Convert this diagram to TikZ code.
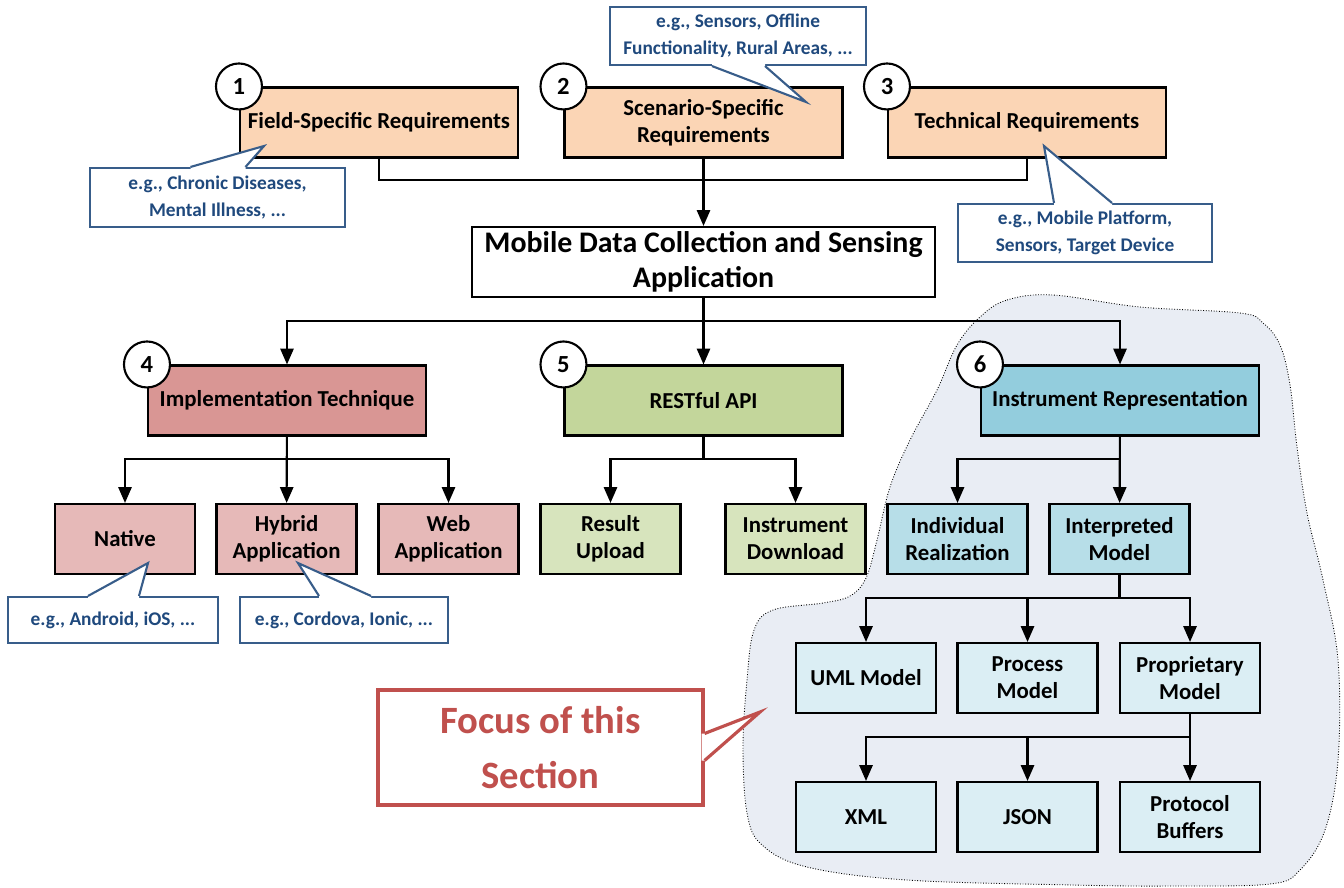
\documentclass[tikz,border=0pt]{standalone}
\usepackage{fontspec}
\setmainfont{Carlito}
\usetikzlibrary{positioning,arrows.meta,calc}
\definecolor{reqfill}{HTML}{FBD5B5}
\definecolor{impfill}{HTML}{D99694}
\definecolor{impsub}{HTML}{E6B9B8}
\definecolor{apifill}{HTML}{C3D69B}
\definecolor{apisub}{HTML}{D7E4BD}
\definecolor{insfill}{HTML}{93CDDD}
\definecolor{inssub}{HTML}{B7DEE8}
\definecolor{modfill}{HTML}{DBEEF4}
\definecolor{blobfill}{HTML}{E9EDF4}
\definecolor{egblue}{HTML}{385D8A}
\definecolor{egtext}{HTML}{1F497D}
\definecolor{focusred}{HTML}{C0504D}
\tikzset{
  box/.style={rectangle, draw, line width=1.2pt, align=center, inner sep=2pt,
              font=\fontsize{13}{15.5}\selectfont\bfseries},
  big/.style={box, minimum width=5.56cm, minimum height=1.4cm},
  small/.style={box, minimum width=2.8cm, minimum height=1.4cm},
  num/.style={circle, draw, fill=white, line width=1.2pt, minimum size=0.92cm,
              inner sep=0pt, font=\fontsize{14}{16}\selectfont\bfseries},
  eg/.style={rectangle, draw=egblue, fill=white, line width=1.2pt,
             text=egtext, align=center, inner sep=2pt,
             font=\fontsize{11}{15.5}\selectfont\bfseries},
  egtip/.style={draw=egblue, fill=white, line width=1.2pt, line join=miter},
  focustip/.style={draw=focusred, fill=white, line width=1.8pt, line join=miter},
  arr/.style={line width=1.2pt, -{Triangle[length=9pt,width=7.5pt]}},
  ln/.style={line width=1.2pt},
  blob/.style={draw=black, densely dotted, fill=blobfill, line width=0.5pt},
}

\begin{document}
\begin{tikzpicture}[x=0.02cm, y=-0.02cm]
  \useasboundingbox (0,0) rectangle (1344,887);
  \draw[blob] plot[smooth cycle, tension=0.6] coordinates {
    (980,317) (1007,300) (1053,295) (1140,307) (1240,313) (1263,323)
    (1280,345) (1290,385) (1297,447) (1307,513) (1323,580) (1338,660)
    (1338,760) (1325,830) (1300,870) (1270,884) (1170,886) (1073,885)
    (907,880) (807,867) (762,845) (747,813) (743,747) (747,680)
    (754,630) (773,610) (823,603) (850,596) (866,578) (877,540)
    (890,487) (910,440) (937,390) (957,345)};

  \node[big, fill=reqfill] (fsr) at (379,122.5) {Field-Specific Requirements};
  \node[big, fill=reqfill] (ssr) at (703.5,122.5) {Scenario-Specific\\Requirements};
  \node[big, fill=reqfill] (tech) at (1027,122.5) {Technical Requirements};
  \node[box, minimum width=9.26cm, minimum height=1.4cm,
        font=\fontsize{17}{20}\selectfont\bfseries] (mdc) at (703.5,262)
        {Mobile Data Collection and Sensing\\Application};

  \node[big, fill=impfill] (impl) at (287,400.5) {Implementation Technique};
  \node[big, fill=apifill] (rest) at (703.5,400.5) {RESTful API};
  \node[big, fill=insfill] (inst) at (1120,400.5) {Instrument Representation};

  \node[small, fill=impsub] (native) at (125,539) {Native};
  \node[small, fill=impsub] (hybrid) at (286.5,539) {Hybrid\\Application};
  \node[small, fill=impsub] (web) at (448.5,539) {Web\\Application};
  \node[small, fill=apisub] (result) at (610.5,539) {Result\\Upload};
  \node[small, fill=apisub] (download) at (795.5,539) {Instrument\\Download};
  \node[small, fill=inssub] (indiv) at (957.5,539) {Individual\\Realization};
  \node[small, fill=inssub] (interp) at (1119.5,539) {Interpreted\\Model};

  \node[small, fill=modfill] (uml) at (866,678) {UML Model};
  \node[small, fill=modfill] (proc) at (1027.5,678) {Process\\Model};
  \node[small, fill=modfill] (prop) at (1190,678) {Proprietary\\Model};
  \node[small, fill=modfill] (xml) at (866,817) {XML};
  \node[small, fill=modfill] (json) at (1027.5,817) {JSON};
  \node[small, fill=modfill] (proto) at (1190,817) {Protocol\\Buffers};

  \coordinate (top) at (703.5,180);
  \coordinate (mid) at (703.5,321);
  \draw[ln] (fsr.south) |- (top) -| (tech.south);
  \draw[arr] (ssr) -- (mdc);
  \draw[ln] (mdc.south) -- (mid);
  \draw[arr] (mid) -| (impl.north);
  \draw[arr] (mid) -- (rest.north);
  \draw[arr] (mid) -| (inst.north);

  \draw[arr] (impl.south) -- ++(0,22.5) -| (native.north);
  \draw[arr] (impl) -- (hybrid);
  \draw[arr] (impl.south) -- ++(0,22.5) -| (web.north);
  \draw[arr] (rest.south) -- ++(0,22.5) -| (result.north);
  \draw[arr] (rest.south) -- ++(0,22.5) -| (download.north);
  \draw[arr] (inst.south) -- ++(0,22.5) -| (indiv.north);
  \draw[arr] (inst) -- (interp);
  \draw[arr] (interp.south) -- ++(0,22.5) -| (uml.north);
  \draw[arr] (interp.south) -- ++(0,22.5) -| (proc.north);
  \draw[arr] (interp.south) -- ++(0,22.5) -| (prop.north);
  \draw[arr] (prop.south) -- ++(0,22.5) -| (xml.north);
  \draw[arr] (prop.south) -- ++(0,22.5) -| (json.north);
  \draw[arr] (prop) -- (proto);

  \node[num] (n1) at (fsr.north west) {1};
  \node[num] (n2) at (ssr.north west) {2};
  \node[num] (n3) at (tech.north west) {3};
  \node[num] (n4) at (impl.north west) {4};
  \node[num] (n5) at (rest.north west) {5};
  \node[num] (n6) at (inst.north west) {6};

  \node[eg, minimum width=5.1cm, minimum height=1.18cm] (egfield) at (217.5,197.5)
        {e.g., Chronic Diseases,\\Mental Illness, ...};
  \node[eg, minimum width=5.12cm, minimum height=1.16cm] (egscen) at (738,36)
        {e.g., Sensors, Offline\\Functionality, Rural Areas, ...};
  \node[eg, minimum width=5.08cm, minimum height=1.16cm] (egtech) at (1085,233)
        {e.g., Mobile Platform,\\Sensors, Target Device};
  \node[eg, minimum width=4.2cm, minimum height=0.92cm] (egnative) at (113,620)
        {e.g., Android, iOS, ...};
  \node[eg, minimum width=4.16cm, minimum height=0.92cm] (eghybrid) at (344,620)
        {e.g., Cordova, Ionic, ...};
  \node[eg, draw=focusred, text=focusred, line width=1.8pt,
        minimum width=6.5cm, minimum height=2.3cm,
        font=\fontsize{22}{31}\selectfont\bfseries] (focus) at (540.5,747.5)
        {Focus of this\\Section};

  \coordinate (tipfield) at (264,146);
  \coordinate (tipscen) at (806,102);
  \coordinate (tiptech) at (1044,146);
  \coordinate (tipnative) at (148,563);
  \coordinate (tiphybrid) at (298,563);
  \coordinate (tipfocus) at (760,712);
  \path[fill=white] ($(egfield.north)+(-27,2)$) -- ($(egfield.north)+(-27,0)$) -- (tipfield)
    -- ($(egfield.north)+(28,0)$) -- ($(egfield.north)+(28,2)$) -- cycle;
  \draw[egtip] ($(egfield.north)+(-27,0)$) -- (tipfield) -- ($(egfield.north)+(28,0)$);
  \path[fill=white] ($(egscen.south)+(-26,-2)$) -- ($(egscen.south)+(-26,0)$) -- (tipscen)
    -- ($(egscen.south)+(27,0)$) -- ($(egscen.south)+(27,-2)$) -- cycle;
  \draw[egtip] ($(egscen.south)+(-26,0)$) -- (tipscen) -- ($(egscen.south)+(27,0)$);
  \path[fill=white] ($(egtech.north)+(-31,2)$) -- ($(egtech.north)+(-31,0)$) -- (tiptech)
    -- ($(egtech.north)+(27,0)$) -- ($(egtech.north)+(27,2)$) -- cycle;
  \draw[egtip] ($(egtech.north)+(-31,0)$) -- (tiptech) -- ($(egtech.north)+(27,0)$);
  \path[fill=white] ($(egnative.north)+(-25,2)$) -- ($(egnative.north)+(-25,0)$) -- (tipnative)
    -- ($(egnative.north)+(26,0)$) -- ($(egnative.north)+(26,2)$) -- cycle;
  \draw[egtip] ($(egnative.north)+(-25,0)$) -- (tipnative) -- ($(egnative.north)+(26,0)$);
  \path[fill=white] ($(eghybrid.north)+(-25,2)$) -- ($(eghybrid.north)+(-25,0)$) -- (tiphybrid)
    -- ($(eghybrid.north)+(27,0)$) -- ($(eghybrid.north)+(27,2)$) -- cycle;
  \draw[egtip] ($(eghybrid.north)+(-25,0)$) -- (tiphybrid) -- ($(eghybrid.north)+(27,0)$);
  \path[fill=white] ($(focus.east)+(-3,-14)$) -- ($(focus.east)+(0,-14)$) -- (tipfocus)
    -- ($(focus.east)+(0,13)$) -- ($(focus.east)+(-3,13)$) -- cycle;
  \draw[focustip] ($(focus.east)+(0,-14)$) -- (tipfocus) -- ($(focus.east)+(0,13)$);
\end{tikzpicture}
\end{document}
